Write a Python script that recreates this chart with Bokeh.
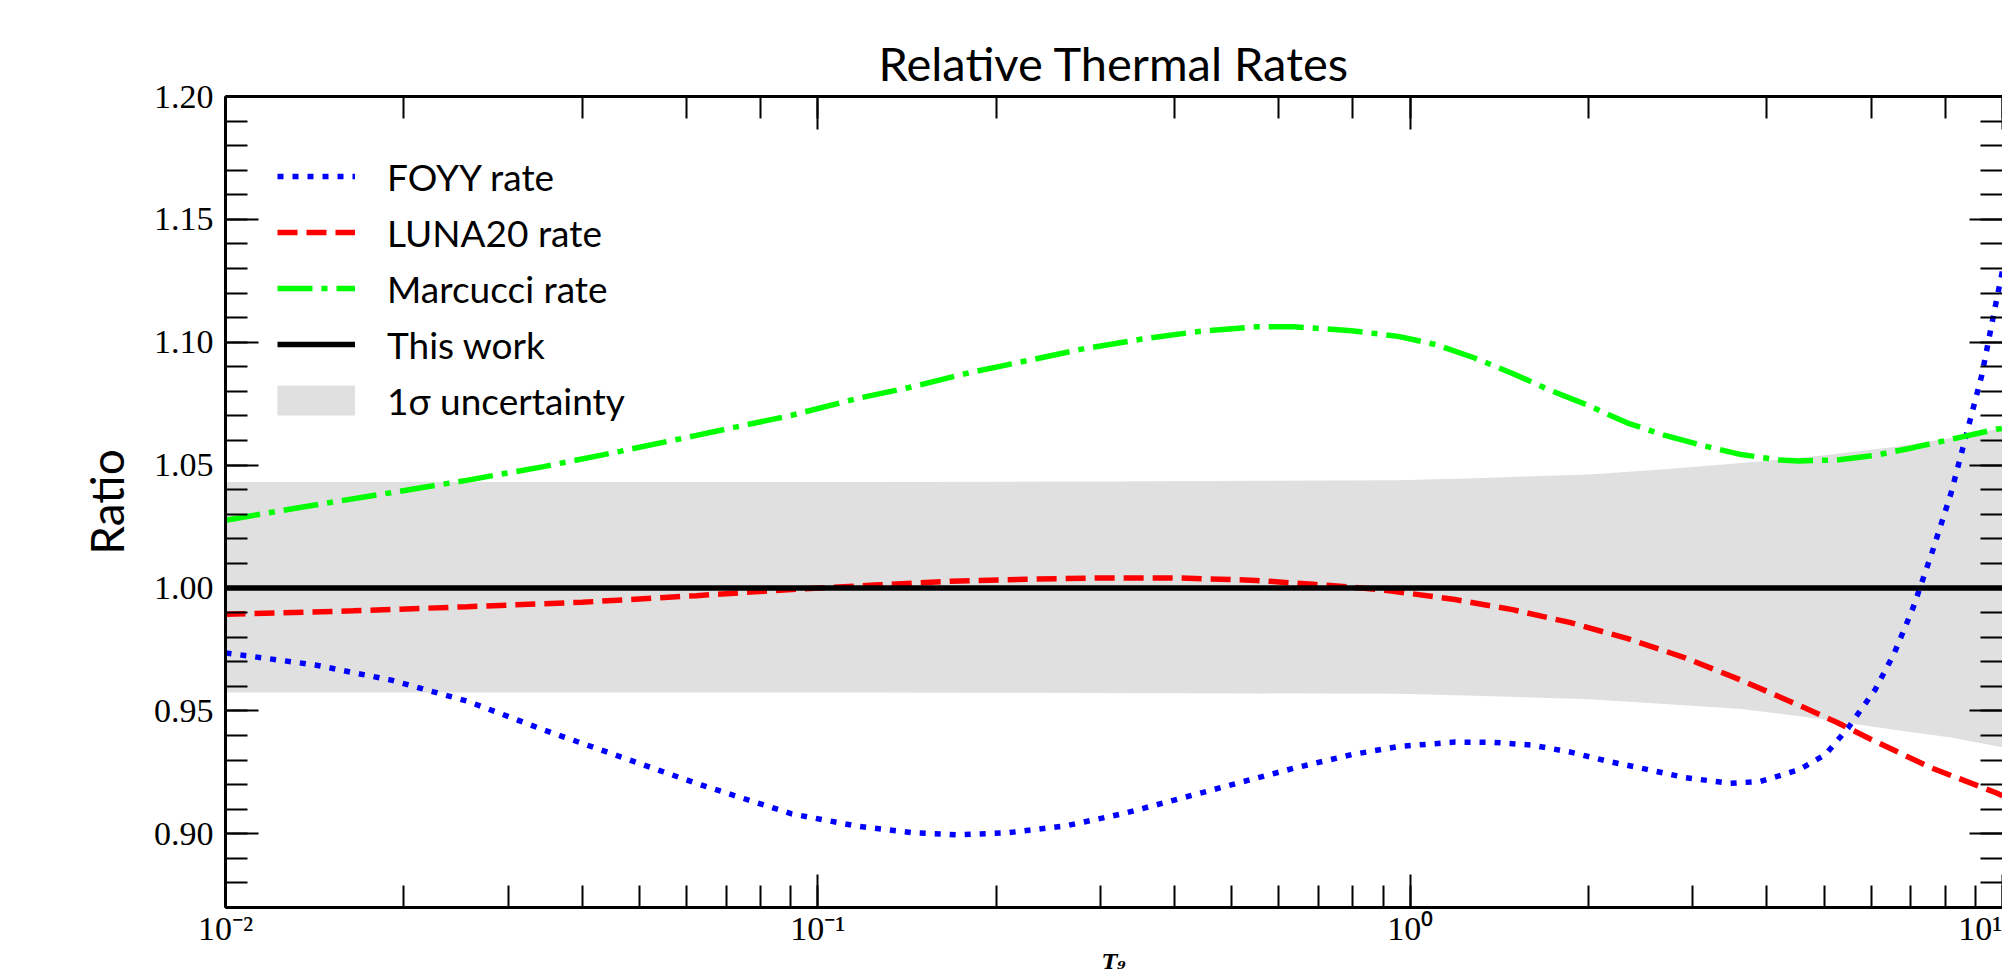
import math
from bokeh.plotting import figure
from bokeh.models import (Range1d, LogAxis, LinearAxis, SingleIntervalTicker, PrintfTickFormatter,
                          CustomJSTickFormatter, Legend, LegendItem)
from bokeh.embed import file_html
from bokeh.resources import INLINE

# ---------------- data ----------------
T_foyy = [0.01, 0.01416, 0.01905, 0.02564, 0.03443, 0.04634, 0.06237, 0.09036, 0.1159, 0.1445,
          0.1726, 0.2094, 0.2618, 0.3266, 0.4083, 0.5093, 0.6368, 0.7962, 0.955, 1.191,
          1.384, 1.603, 1.858, 2.158, 2.5, 2.904, 3.467, 3.899, 4.529, 5.023,
          5.483, 6.095, 6.561, 7.063, 7.603, 8.185, 8.81, 9.226, 9.75, 10.0]
R_foyy = [0.9736, 0.9687, 0.9625, 0.9539, 0.9423, 0.9314, 0.9205, 0.9081, 0.9032, 0.9004,
          0.8996, 0.9004, 0.9032, 0.9081, 0.9143, 0.9205, 0.9267, 0.9322, 0.9355, 0.9373,
          0.9372, 0.9361, 0.9333, 0.9295, 0.9263, 0.9229, 0.9205, 0.9213, 0.9260, 0.9322,
          0.9430, 0.9586, 0.9733, 0.9919, 1.0144, 1.0385, 1.0680, 1.0866, 1.1161, 1.129]

T_luna = [0.01, 0.01641, 0.02564, 0.04, 0.06237, 0.09036, 0.1247, 0.1679, 0.2254, 0.3034,
          0.4083, 0.5495, 0.6855, 0.7962, 0.9226, 1.191, 1.489, 1.858, 2.323, 2.904,
          3.622, 4.529, 5.248, 6.095, 7.603, 9.75, 10.0]
R_luna = [0.9893, 0.9907, 0.9924, 0.9942, 0.9969, 0.9994, 1.0012, 1.0028, 1.0036, 1.0041,
          1.0041, 1.0031, 1.0015, 1.0004, 0.9989, 0.9953, 0.9912, 0.9860, 0.9795, 0.9717,
          0.9625, 0.9523, 0.9454, 0.9376, 0.9267, 0.9167, 0.9155]

T_marcucci = [0.01, 0.01416, 0.01963, 0.02564, 0.03443, 0.04634, 0.06237, 0.09036, 0.1159, 0.1445,
              0.1807, 0.2254, 0.2818, 0.3524, 0.4395, 0.5495, 0.6368, 0.7962, 0.955, 1.107,
              1.285, 1.489, 1.726, 2.004, 2.323, 2.692, 3.126, 3.622, 4.207, 4.529,
              5.248, 6.095, 7.063, 8.185, 9.75, 10.0]
R_marcucci = [1.0276, 1.0338, 1.0393, 1.0439, 1.0494, 1.0556, 1.0621, 1.0703, 1.0770, 1.0819,
              1.0877, 1.0925, 1.0974, 1.1013, 1.1044, 1.1063, 1.1063, 1.1047, 1.1024, 1.0990,
              1.0936, 1.0873, 1.0804, 1.0742, 1.0672, 1.0621, 1.0579, 1.0543, 1.0521, 1.0517,
              1.0521, 1.0540, 1.0571, 1.0605, 1.0646, 1.0650]

T_work = [0.01, 10.0]
R_work = [1.0, 1.0]

T_band = [0.01, 0.1, 0.3, 0.955, 1.285, 2.004, 2.692, 3.622, 4.875, 6.561, 8.185, 9.75, 10.0]
band_upper = [1.0431, 1.0431, 1.0433, 1.0439, 1.0447, 1.0462, 1.0483, 1.0509, 1.0537, 1.0574,
              1.0610, 1.0646, 1.0650]
band_lower = [0.9575, 0.9575, 0.9573, 0.9570, 0.9562, 0.9547, 0.9528, 0.9508, 0.9469, 0.9423,
              0.9392, 0.9357, 0.9352]

legend_labels = ["FOYY rate", "LUNA20 rate", "Marcucci rate", "This work", "1\u03c3 uncertainty"]
title_text = "Relative Thermal Rates"
xlabel_text = "T\u2089"
ylabel_text = "Ratio"

# ---------------- figure ----------------
FRAME_L, FRAME_T, FRAME_B = 225, 96, 908
W, H = 2002, 976

p = figure(width=W, height=H, x_axis_type="log",
           x_range=Range1d(0.01 * 0.99999, 10.0 * 1.00001),
           y_range=Range1d(0.87, 1.2000001),
           output_backend="svg", toolbar_location=None, title=title_text,
           min_border_left=FRAME_L, min_border_right=0,
           min_border_top=FRAME_T, min_border_bottom=H - FRAME_B)
p.outline_line_color = None
p.xgrid.visible = False
p.ygrid.visible = False
p.background_fill_color = "white"
p.border_fill_color = "white"

p.title.align = "center"
p.title.text_font = "Lato"
p.title.text_font_size = "47px"
p.title.text_font_style = "normal"
p.title.text_color = "black"
p.title.standoff = 12

# uncertainty band
p.varea(x=T_band, y1=band_lower, y2=band_upper, fill_color="#e0e0e0", fill_alpha=1.0)

LW = 5.5
r_foyy = p.line(T_foyy, R_foyy, line_color="#0000ff", line_width=LW, line_dash="6 9")
r_luna = p.line(T_luna, R_luna, line_color="#ff0000", line_width=LW, line_dash="20 9")
r_marc = p.line(T_marcucci, R_marcucci, line_color="#00ff00", line_width=LW, line_dash="35 9 6 9")
r_work = p.line(T_work, R_work, line_color="#000000", line_width=LW)
# legend swatch for the band: a thick grey stroke hidden under the band itself
r_band_key = p.line(T_band, R_work[:1] * len(T_band), line_color="#e0e0e0", line_width=30,
                    level="underlay")

# ---------------- axes ----------------
bottom_ax = p.xaxis[0]
left_ax = p.yaxis[0]

sup_code = """
const e = Math.round(Math.log10(tick));
const m = {"-":"\\u207B","0":"\\u2070","1":"\\u00B9","2":"\\u00B2","3":"\\u00B3",
           "4":"\\u2074","5":"\\u2075","6":"\\u2076","7":"\\u2077","8":"\\u2078","9":"\\u2079"};
return "10" + String(e).split("").map(c => m[c]).join("");
"""
bottom_ax.formatter = CustomJSTickFormatter(code=sup_code)
left_ax.ticker = SingleIntervalTicker(interval=0.05, num_minor_ticks=5)
left_ax.formatter = PrintfTickFormatter(format="%.2f")

top_ax = LogAxis()
right_ax = LinearAxis(ticker=SingleIntervalTicker(interval=0.05, num_minor_ticks=5))
p.add_layout(top_ax, "above")
p.add_layout(right_ax, "right")

for ax in [bottom_ax, left_ax, top_ax, right_ax]:
    ax.axis_line_width = 3
    ax.axis_line_color = "black"
    ax.major_tick_in = 33
    ax.major_tick_out = 0
    ax.minor_tick_in = 22
    ax.minor_tick_out = 0
    ax.major_tick_line_width = 2
    ax.minor_tick_line_width = 2
    ax.major_tick_line_color = "black"
    ax.minor_tick_line_color = "black"
    ax.major_label_text_font = "Liberation Serif"
    ax.major_label_text_font_size = "34px"
    ax.major_label_text_color = "black"

bottom_ax.major_label_standoff = 2
left_ax.major_label_standoff = 12
for ax in [top_ax, right_ax]:
    ax.major_label_text_font_size = "1px"
    ax.major_label_text_alpha = 0.0
    ax.major_label_standoff = 0
right_ax.axis_line_color = None

left_ax.axis_label = ylabel_text
left_ax.axis_label_text_font = "Lato"
left_ax.axis_label_text_font_size = "46px"
left_ax.axis_label_text_font_style = "normal"
left_ax.axis_label_text_color = "black"
left_ax.axis_label_standoff = 17

bottom_ax.axis_label = xlabel_text
bottom_ax.axis_label_text_font = "DejaVu Serif"
bottom_ax.axis_label_text_font_size = "20px"
bottom_ax.axis_label_text_font_style = "bold italic"
bottom_ax.axis_label_text_color = "black"
bottom_ax.axis_label_standoff = 0

# ---------------- legend ----------------
legend = Legend(items=[
    LegendItem(label=legend_labels[0], renderers=[r_foyy]),
    LegendItem(label=legend_labels[1], renderers=[r_luna]),
    LegendItem(label=legend_labels[2], renderers=[r_marc]),
    LegendItem(label=legend_labels[3], renderers=[r_work]),
    LegendItem(label=legend_labels[4], renderers=[r_band_key]),
], location="top_left")
legend.margin = 52
legend.padding = 0
legend.spacing = 0
legend.glyph_width = 78
legend.glyph_height = 56
legend.label_height = 56
legend.label_standoff = 32
legend.label_text_font = "Lato"
legend.label_text_font_size = "37px"
legend.label_text_color = "black"
legend.border_line_color = None
legend.background_fill_alpha = 0
p.add_layout(legend)

open("out.html", "w", encoding="utf-8").write(file_html(p, INLINE))
